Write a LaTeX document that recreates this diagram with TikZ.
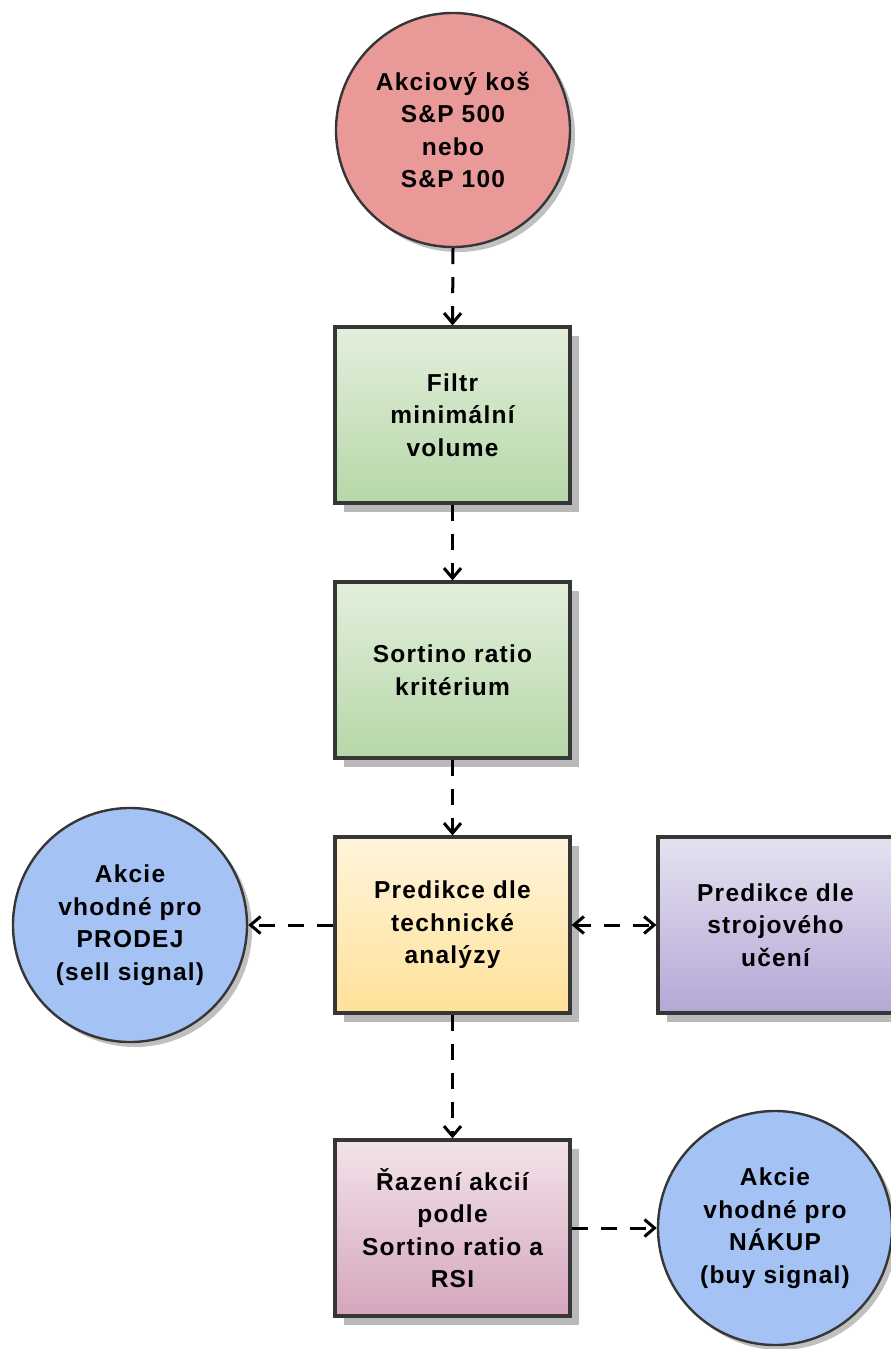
\documentclass[tikz,border=0pt]{standalone}
\usepackage{fontspec}
\setmainfont{Liberation Sans}
\newfontfamily\lab[LetterSpace=5]{Liberation Sans}
\usetikzlibrary{arrows.meta,shadows}
\definecolor{linec}{HTML}{363636}
\definecolor{shadowc}{HTML}{B9B9B9}
\definecolor{redc}{HTML}{EA9999}
\definecolor{bluec}{HTML}{A4C2F4}
\definecolor{greentop}{HTML}{E3EFDC}
\definecolor{greenbot}{HTML}{B6D7A8}
\definecolor{yeltop}{HTML}{FFF5DC}
\definecolor{yelbot}{HTML}{FFE198}
\definecolor{purtop}{HTML}{E6E2F1}
\definecolor{purbot}{HTML}{B4A7D6}
\definecolor{pinktop}{HTML}{F3E3EA}
\definecolor{pinkbot}{HTML}{D5A6BD}
\tikzset{
  txt/.style={align=center, text=black, font=\lab\bfseries\fontsize{24.5}{32.5}\selectfont},
  boxnode/.style={txt, draw=linec, line width=3.2pt, minimum width=235pt, minimum height=176pt,
    inner sep=0pt, drop shadow={shadow xshift=9pt, shadow yshift=-9pt, fill=shadowc, opacity=1}},
  circnode/.style={txt, circle, draw=linec, line width=2.4pt, minimum size=234pt, inner sep=0pt,
    drop shadow={shadow xshift=5pt, shadow yshift=-5pt, fill=shadowc, opacity=0.9}},
  tipv/.tip={Straight Barb[length=10pt, width=17pt]},
  flow/.style={draw=black, line width=3pt, dash pattern=on 16pt off 13pt, -tipv},
  flow2/.style={draw=black, line width=3pt, dash pattern=on 16pt off 13pt, tipv-tipv},
}
\begin{document}
\begin{tikzpicture}[x=1pt, y=-1pt]
\useasboundingbox (0,0) rectangle (891,1349);
\clip (0,0) rectangle (891,1349);
\node[circnode, fill=redc] (src) at (453,130) {Akciový koš\\S\&P 500\\nebo\\S\&P 100};
\node[boxnode, top color=greentop, bottom color=greenbot] (filt) at (452.5,415) {Filtr\\minimální\\volume};
\node[boxnode, top color=greentop, bottom color=greenbot] (sort) at (452.5,670) {Sortino ratio\\kritérium};
\node[boxnode, top color=yeltop, bottom color=yelbot] (tech) at (452.5,925) {Predikce dle\\technické\\analýzy};
\node[boxnode, top color=purtop, bottom color=purbot] (ml) at (775.5,925) {Predikce dle\\strojového\\učení};
\node[circnode, fill=bluec] (sell) at (130,925) {Akcie\\vhodné pro\\PRODEJ\\(sell signal)};
\node[boxnode, top color=pinktop, bottom color=pinkbot] (rank) at (452.5,1228) {Řazení akcií\\podle\\Sortino ratio a\\RSI};
\node[circnode, fill=bluec] (buy) at (775,1228) {Akcie\\vhodné pro\\NÁKUP\\(buy signal)};
\draw[flow] (src.south) -- (filt.north);
\draw[flow] (filt.south) -- (sort.north);
\draw[flow] (sort.south) -- (tech.north);
\draw[flow] (tech.west) -- (sell.east);
\draw[flow2] (tech.east) -- (ml.west);
\draw[flow] (tech.south) -- (rank.north);
\draw[flow] (rank.east) -- (buy.west);
\end{tikzpicture}
\end{document}
